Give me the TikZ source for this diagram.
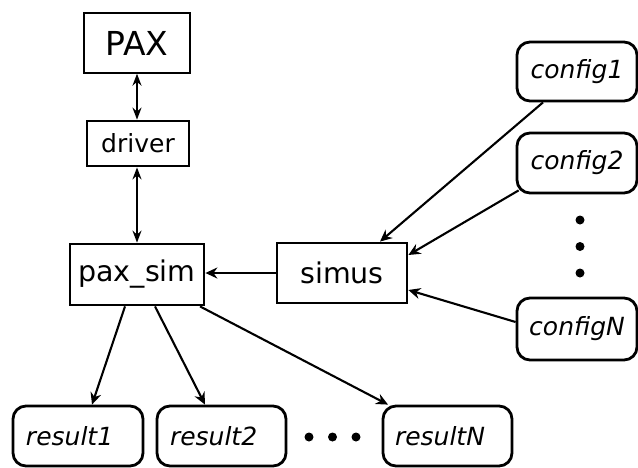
\documentclass[tikz,border=0pt]{standalone}
\usepackage{fontspec}
\setmainfont{DejaVu Sans}
\usetikzlibrary{arrows.meta}
\tikzset{
  box/.style={draw, line width=2.8pt, inner sep=0pt, font=\fontsize{28.5}{30}\selectfont},
  thinbox/.style={draw, line width=1.4pt, inner sep=0pt, font=\fontsize{33}{34}\selectfont},
  rbox/.style={draw, line width=2.8pt, rounded corners=13pt, inner sep=0pt, minimum width=120pt, minimum height=60pt, font=\fontsize{25}{26}\selectfont\itshape},
  lbox/.style={rbox, inner xsep=13pt, text width=104pt, align=left},
  dot/.style={circle, fill=black, inner sep=0pt, minimum size=9pt},
  conn/.style={line width=2.1pt, -{Stealth[length=12pt,width=11pt,inset=4pt]}},
  bconn/.style={line width=2.1pt, {Stealth[length=12pt,width=9pt,inset=4pt]}-{Stealth[length=12pt,width=9pt,inset=4pt]}},
}
\begin{document}
\begin{tikzpicture}[x=1pt,y=-1pt]
\useasboundingbox (0,0) rectangle (638,467);
\node[thinbox, minimum width=106pt, minimum height=60pt] (pax) at (137,43) {PAX};
\node[box, minimum width=102pt, minimum height=45pt, font=\fontsize{25}{26}\selectfont] (driver) at (138,143.5) {driver};
\node[box, minimum width=134pt, minimum height=61pt] (paxsim) at (137,274.5) {pax\_sim};
\node[box, minimum width=130pt, minimum height=60pt] (simus) at (342,273) {simus};
\node[rbox, minimum height=59pt] (config1) at (577,71.5) {config1};
\node[rbox] (config2) at (577,163) {config2};
\node[rbox, minimum height=62pt] (configN) at (577,329) {configN};
\node[dot] (cd1) at (580,220) {};
\node[dot] (cd2) at (580,246.5) {};
\node[dot] (cd3) at (580,273) {};
\node[lbox] (result1) at (78,436) {result1};
\node[lbox, text width=103pt, inner xsep=13pt] (result2) at (221.5,436) {result2};
\node[lbox, text width=105pt, inner xsep=12pt] (resultN) at (447.5,436) {resultN};
\node[dot] (rd1) at (309,437) {};
\node[dot] (rd2) at (332.5,437) {};
\node[dot] (rd3) at (356,437) {};
\draw[bconn] (pax.south) -- (pax.south |- driver.north);
\draw[bconn] (driver.south -| pax.south) -- (pax.south |- paxsim.north);
\draw[conn] (simus.west) -- (paxsim.east |- simus.west);
\draw[conn] ([xshift=-34pt]config1.south) -- ([xshift=38pt]simus.north);
\draw[conn] ([shift={(3pt,4pt)}]config2.south west) -- ([yshift=18pt]simus.east);
\draw[conn] ([yshift=7pt]configN.west) -- ([yshift=-17pt]simus.east);
\draw[conn] ([xshift=-12pt]paxsim.south) -- ([xshift=14pt]result1.north);
\draw[conn] ([xshift=18pt]paxsim.south) -- ([xshift=-16.5pt]result2.north);
\draw[conn] ([xshift=63pt]paxsim.south) -- ([xshift=-59.5pt]resultN.north);
\end{tikzpicture}
\end{document}
